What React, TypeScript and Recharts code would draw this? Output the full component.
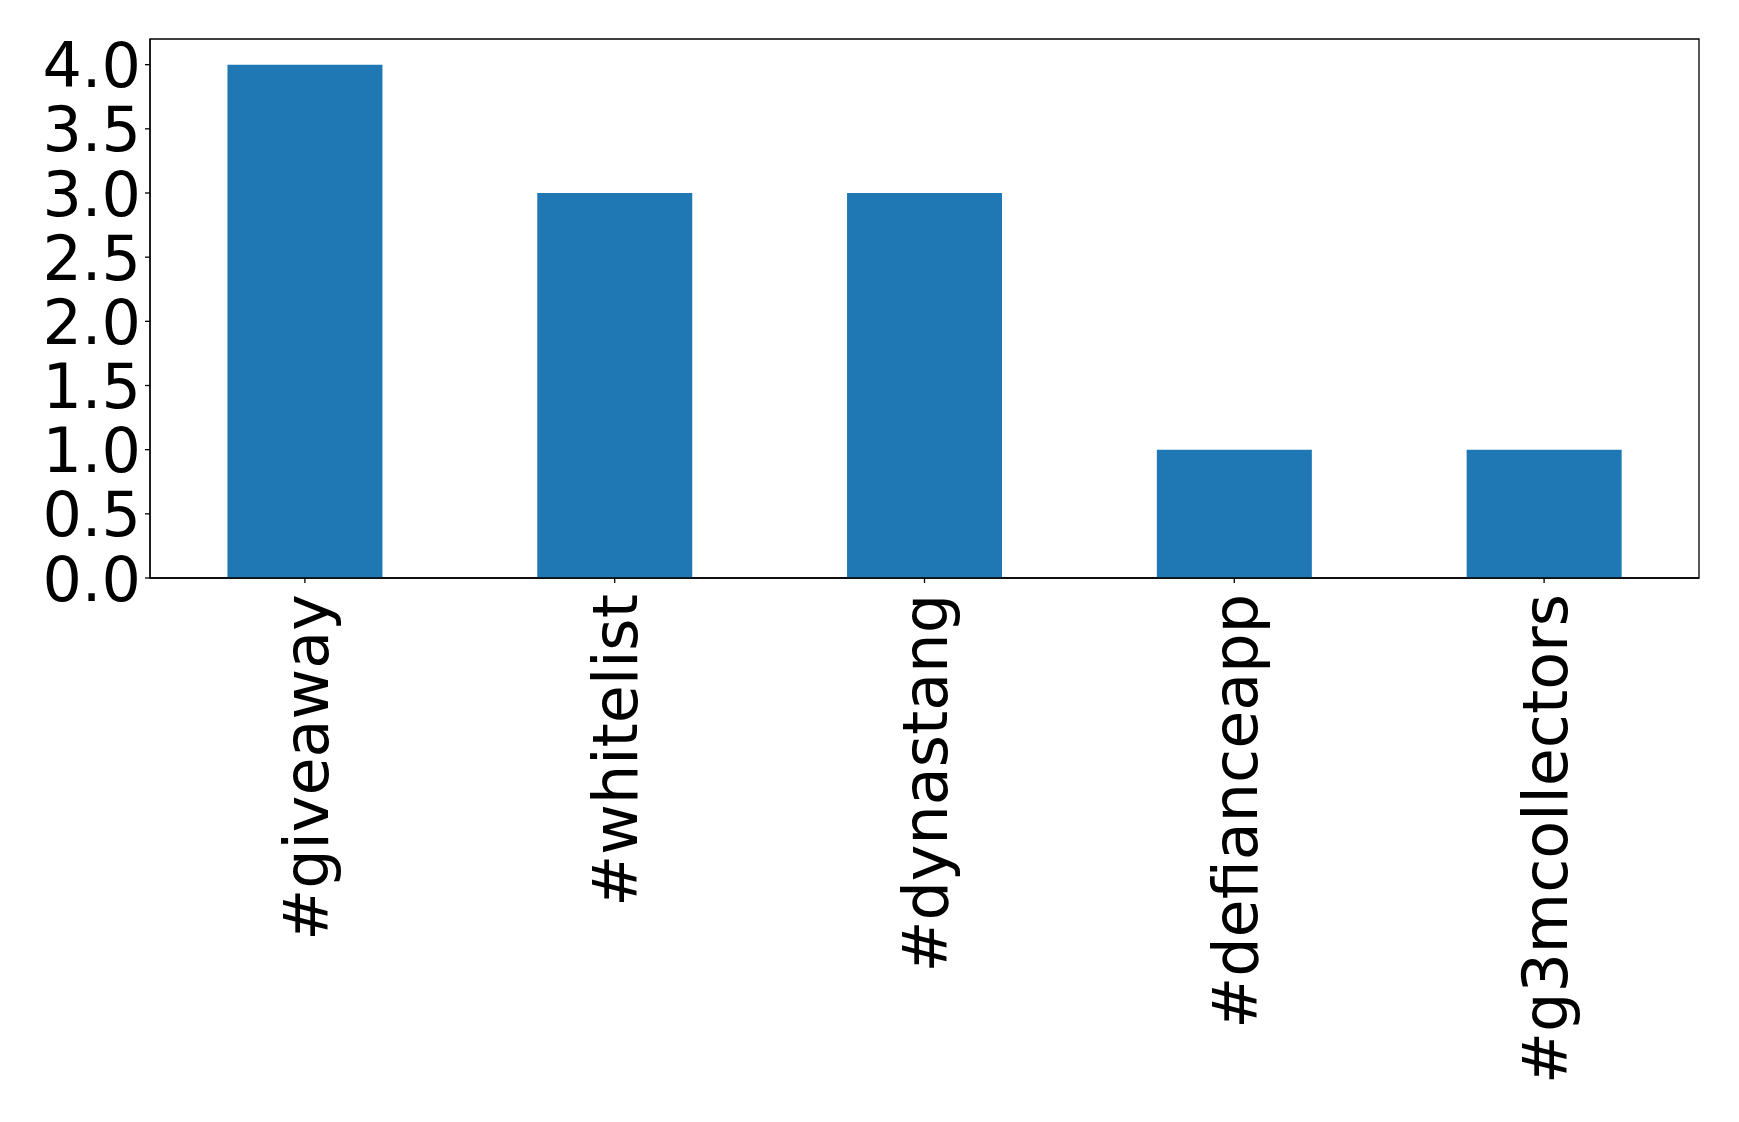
import { Bar, BarChart, ReferenceArea, XAxis, YAxis } from "recharts"

const tags = ["#giveaway", "#whitelist", "#dynastang", "#defianceapp", "#g3mcollectors"]
const counts = [4, 3, 3, 1, 1]
const yTicks = [0, 0.5, 1, 1.5, 2, 2.5, 3, 3.5, 4]

const data = tags.map((tag, i) => ({ tag, count: counts[i] }))

const font = "'DejaVu Sans', sans-serif"
const fontSize = 62
const lineW = 1.3

function YTick({ x, y, payload }: any) {
  return (
    <text x={x} y={y} dy={fontSize * 0.365} textAnchor="end" fontFamily={font} fontSize={fontSize} fill="#000">
      {payload.value.toFixed(1)}
    </text>
  )
}

function XTick({ x, y, payload }: any) {
  return (
    <text
      x={x}
      y={y}
      dy={fontSize * 0.365}
      textAnchor="end"
      transform={`rotate(-90 ${x} ${y})`}
      fontFamily={font}
      fontSize={fontSize}
      fill="#000"
    >
      {payload.value}
    </text>
  )
}

export default function App() {
  return (
    <div style={{ position: "absolute", left: 0, top: 0, background: "#fff" }}>
      <BarChart
        width={1739}
        height={1122}
        data={data}
        margin={{ top: 39, right: 40, left: 0, bottom: 0 }}
        barCategoryGap="25%"
      >
        <XAxis
          dataKey="tag"
          type="category"
          height={544}
          tick={<XTick />}
          tickSize={5}
          tickMargin={11}
          interval={0}
          stroke="#000"
          strokeWidth={lineW}
        />
        <YAxis
          type="number"
          domain={[0, 4.2]}
          ticks={yTicks}
          width={150}
          tick={<YTick />}
          tickSize={5}
          tickMargin={4}
          interval={0}
          stroke="#000"
          strokeWidth={lineW}
        />
        <Bar dataKey="count" fill="#1f77b4" isAnimationActive={false} />
        <ReferenceArea y1={0} y2={4.2} fill="none" stroke="#000" strokeWidth={lineW} />
      </BarChart>
    </div>
  )
}
